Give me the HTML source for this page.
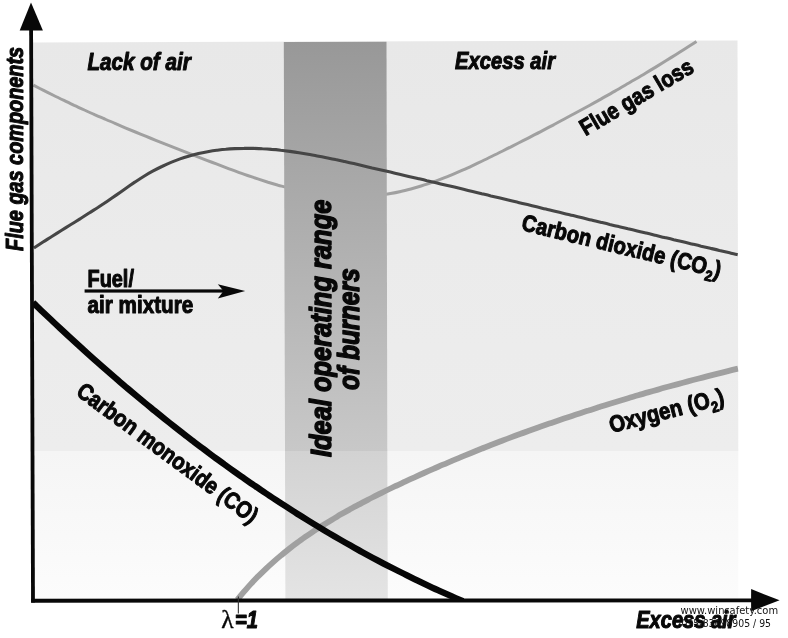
<!DOCTYPE html>
<html lang="en"><head><meta charset="utf-8"><title>Flue gas components vs. excess air</title>
<style>html,body{margin:0;padding:0;background:#fff}svg{display:block;will-change:transform}text{font-family:"Liberation Sans",Arial,Helvetica,sans-serif;fill:#080808}.b{stroke:#080808;stroke-width:1.1px;stroke-linejoin:round}</style></head><body>
<svg width="788" height="638" viewBox="0 0 788 638">
<rect width="788" height="638" fill="#fff"/>
<defs><linearGradient id="gbg" gradientUnits="userSpaceOnUse" x1="0" y1="41" x2="0" y2="451"><stop offset="0" stop-color="#e8e8e8"/><stop offset="0.5" stop-color="#ebebeb"/><stop offset="1" stop-color="#ededed"/></linearGradient><linearGradient id="gbl" gradientUnits="userSpaceOnUse" x1="0" y1="451" x2="0" y2="600"><stop offset="0" stop-color="#f5f5f5"/><stop offset="1" stop-color="#fcfcfc"/></linearGradient><linearGradient id="gband" gradientUnits="userSpaceOnUse" x1="0" y1="41" x2="0" y2="451"><stop offset="0" stop-color="#989898"/><stop offset="0.5" stop-color="#b0b0b0"/><stop offset="1" stop-color="#c8c8c8"/></linearGradient><linearGradient id="gbandl" gradientUnits="userSpaceOnUse" x1="0" y1="451" x2="0" y2="600"><stop offset="0" stop-color="#d2d2d2"/><stop offset="1" stop-color="#e4e4e4"/></linearGradient><clipPath id="cp"><rect x="31" y="38" width="707.5" height="564"/></clipPath></defs>
<polygon points="32,42.5 737.5,40.4 738.3,451 33,451" fill="url(#gbg)"/>
<polygon points="33,451 738.3,451 738.3,600 33,600" fill="url(#gbl)"/>
<path d="M33.4 85.2 C35.1 86.1 40.2 88.7 43.6 90.4 C47.0 92.1 50.4 93.8 53.8 95.5 C57.2 97.2 60.6 98.8 64.0 100.4 C67.4 102.1 70.8 103.7 74.2 105.3 C77.6 106.8 81.0 108.4 84.4 110.0 C87.8 111.5 91.2 113.0 94.6 114.6 C98.0 116.1 101.4 117.6 104.8 119.0 C108.2 120.5 111.6 122.0 115.0 123.4 C118.4 124.9 121.8 126.3 125.2 127.8 C128.6 129.2 132.0 130.6 135.4 132.0 C138.8 133.4 142.2 134.8 145.6 136.2 C149.0 137.6 152.4 138.9 155.8 140.3 C159.2 141.7 162.6 143.0 166.0 144.4 C169.4 145.7 172.8 147.1 176.2 148.4 C179.6 149.7 183.0 151.1 186.4 152.4 C189.8 153.7 193.2 155.0 196.6 156.4 C200.0 157.7 203.4 159.0 206.8 160.3 C210.2 161.6 213.6 162.9 217.0 164.2 C220.4 165.5 223.8 166.8 227.2 168.1 C230.6 169.4 234.0 170.6 237.4 171.8 C240.8 173.1 244.2 174.3 247.6 175.5 C251.0 176.6 254.4 177.8 257.8 178.9 C261.2 180.0 264.6 181.1 268.0 182.2 C271.4 183.2 274.8 184.2 278.2 185.2 C281.6 186.1 285.0 187.1 288.4 187.9 C291.8 188.8 295.2 189.6 298.6 190.4 C302.0 191.1 305.4 191.8 308.8 192.5 C312.2 193.1 315.6 193.7 319.0 194.2 C322.4 194.7 325.8 195.2 329.2 195.6 C332.6 195.9 336.0 196.2 339.4 196.5 C342.8 196.7 346.2 196.8 349.6 196.9 C353.0 197.0 356.4 196.9 359.8 196.8 C363.2 196.7 366.7 196.5 370.1 196.3 C373.5 196.0 376.9 195.6 380.3 195.2 C383.7 194.7 387.1 194.2 390.5 193.6 C393.9 193.0 397.3 192.3 400.7 191.5 C404.1 190.8 407.5 189.9 410.9 189.0 C414.3 188.1 417.7 187.1 421.1 186.0 C424.5 184.9 427.9 183.8 431.3 182.6 C434.7 181.4 438.1 180.1 441.5 178.8 C444.9 177.5 448.3 176.2 451.7 174.8 C455.1 173.3 458.5 171.9 461.9 170.4 C465.3 168.9 468.7 167.4 472.1 165.8 C475.5 164.2 478.9 162.6 482.3 161.0 C485.7 159.4 489.1 157.7 492.5 156.0 C495.9 154.4 499.3 152.7 502.7 151.0 C506.1 149.3 509.5 147.6 512.9 145.8 C516.3 144.1 519.7 142.4 523.1 140.7 C526.5 138.9 529.9 137.2 533.3 135.4 C536.7 133.7 540.1 131.9 543.5 130.1 C546.9 128.3 550.3 126.6 553.7 124.8 C557.1 123.0 560.5 121.2 563.9 119.3 C567.3 117.5 570.7 115.7 574.1 113.8 C577.5 112.0 580.9 110.1 584.3 108.3 C587.7 106.4 591.1 104.5 594.5 102.6 C597.9 100.8 601.3 98.8 604.7 96.9 C608.1 95.0 611.5 93.1 614.9 91.1 C618.3 89.2 621.7 87.2 625.1 85.2 C628.5 83.3 631.9 81.3 635.3 79.3 C638.7 77.3 642.1 75.3 645.5 73.2 C648.9 71.2 652.3 69.1 655.7 67.1 C659.1 65.0 662.5 62.9 665.9 60.8 C669.3 58.7 672.7 56.6 676.1 54.5 C679.5 52.4 682.9 50.2 686.3 48.0 C689.7 45.9 694.8 42.6 696.5 41.5" fill="none" stroke="#a0a0a0" stroke-width="3"/>
<polygon points="283.8,42 386.5,41.8 387.3,451 285,451" fill="url(#gband)"/>
<polygon points="285,451 387.3,451 387.8,600 285.4,600" fill="url(#gbandl)"/>
<g clip-path="url(#cp)">
<path d="M33.9 248.0 C35.4 247.0 40.0 244.0 43.0 242.0 C46.1 240.1 49.1 238.1 52.2 236.2 C55.2 234.3 58.3 232.4 61.3 230.5 C64.4 228.6 67.4 226.7 70.5 224.8 C73.5 222.9 76.6 221.0 79.6 219.1 C82.6 217.2 85.7 215.3 88.7 213.3 C91.8 211.4 94.8 209.4 97.9 207.5 C100.9 205.5 104.0 203.5 107.0 201.4 C110.1 199.3 113.1 197.2 116.2 195.1 C119.2 193.0 122.3 190.8 125.3 188.7 C128.3 186.6 131.4 184.5 134.4 182.4 C137.5 180.4 140.5 178.4 143.6 176.5 C146.6 174.6 149.7 172.8 152.7 171.2 C155.8 169.5 158.8 167.9 161.9 166.5 C164.9 165.0 168.0 163.6 171.0 162.4 C174.1 161.1 177.1 160.0 180.1 158.9 C183.2 157.8 186.2 156.9 189.3 156.0 C192.3 155.1 195.4 154.3 198.4 153.6 C201.5 152.9 204.5 152.3 207.6 151.7 C210.6 151.2 213.7 150.7 216.7 150.3 C219.8 149.9 222.8 149.5 225.8 149.3 C228.9 149.0 231.9 148.8 235.0 148.6 C238.0 148.5 241.1 148.4 244.1 148.4 C247.2 148.3 250.2 148.3 253.3 148.4 C256.3 148.5 259.4 148.6 262.4 148.8 C265.5 148.9 268.5 149.1 271.5 149.4 C274.6 149.6 277.6 149.9 280.7 150.3 C283.7 150.6 286.8 151.0 289.8 151.4 C292.9 151.8 295.9 152.2 299.0 152.7 C302.0 153.2 305.1 153.7 308.1 154.2 C311.2 154.8 314.2 155.3 317.2 155.9 C320.3 156.5 323.3 157.1 326.4 157.7 C329.4 158.3 332.5 158.9 335.5 159.6 C338.6 160.2 341.6 160.9 344.7 161.6 C347.7 162.3 350.8 163.0 353.8 163.6 C356.9 164.3 359.9 165.0 362.9 165.7 C366.0 166.4 369.0 167.1 372.1 167.9 C375.1 168.6 378.2 169.3 381.2 170.0 C384.3 170.7 387.3 171.4 390.4 172.1 C393.4 172.8 396.5 173.5 399.5 174.2 C402.6 174.9 405.6 175.6 408.7 176.4 C411.7 177.1 414.7 177.8 417.8 178.5 C420.8 179.2 423.9 179.9 426.9 180.7 C430.0 181.4 433.0 182.1 436.1 182.8 C439.1 183.5 442.2 184.3 445.2 185.0 C448.3 185.7 451.3 186.4 454.4 187.1 C457.4 187.9 460.4 188.6 463.5 189.3 C466.5 190.0 469.6 190.8 472.6 191.5 C475.7 192.2 478.7 192.9 481.8 193.7 C484.8 194.4 487.9 195.1 490.9 195.9 C494.0 196.6 497.0 197.3 500.1 198.0 C503.1 198.8 506.1 199.5 509.2 200.2 C512.2 201.0 515.3 201.7 518.3 202.4 C521.4 203.2 524.4 203.9 527.5 204.6 C530.5 205.3 533.6 206.1 536.6 206.8 C539.7 207.5 542.7 208.3 545.8 209.0 C548.8 209.7 551.8 210.5 554.9 211.2 C557.9 211.9 561.0 212.7 564.0 213.4 C567.1 214.1 570.1 214.9 573.2 215.6 C576.2 216.3 579.3 217.1 582.3 217.8 C585.4 218.5 588.4 219.3 591.5 220.0 C594.5 220.7 597.5 221.5 600.6 222.2 C603.6 222.9 606.7 223.6 609.7 224.4 C612.8 225.1 615.8 225.8 618.9 226.6 C621.9 227.3 625.0 228.0 628.0 228.8 C631.1 229.5 634.1 230.2 637.2 230.9 C640.2 231.7 643.3 232.4 646.3 233.1 C649.3 233.9 652.4 234.6 655.4 235.3 C658.5 236.0 661.5 236.8 664.6 237.5 C667.6 238.2 670.7 238.9 673.7 239.7 C676.8 240.4 679.8 241.1 682.9 241.8 C685.9 242.6 689.0 243.3 692.0 244.0 C695.0 244.7 698.1 245.4 701.1 246.2 C704.2 246.9 707.2 247.6 710.3 248.3 C713.3 249.0 716.4 249.7 719.4 250.5 C722.5 251.2 725.5 251.9 728.6 252.6 C731.6 253.3 736.2 254.4 737.7 254.7" fill="none" stroke="#464646" stroke-width="3.1"/>
<path d="M237.3 599.9 C238.4 598.5 241.7 594.4 244.0 591.7 C246.3 589.1 248.6 586.4 250.9 583.9 C253.3 581.3 255.7 578.8 258.1 576.3 C260.6 573.9 263.1 571.5 265.6 569.1 C268.1 566.7 270.6 564.4 273.2 562.1 C275.8 559.8 278.4 557.6 281.0 555.4 C283.7 553.2 286.4 551.0 289.1 548.9 C291.8 546.8 294.5 544.7 297.3 542.7 C300.0 540.7 302.8 538.7 305.6 536.7 C308.4 534.7 311.3 532.8 314.1 530.9 C317.0 529.0 319.9 527.1 322.8 525.3 C325.7 523.5 328.6 521.7 331.6 519.9 C334.5 518.1 337.5 516.4 340.5 514.6 C343.4 512.9 346.5 511.2 349.5 509.6 C352.5 507.9 355.5 506.2 358.6 504.6 C361.6 503.0 364.7 501.4 367.8 499.8 C370.8 498.2 373.9 496.7 377.0 495.1 C380.1 493.6 383.2 492.0 386.3 490.5 C389.4 489.0 392.6 487.5 395.7 486.0 C398.8 484.6 401.9 483.1 405.1 481.6 C408.2 480.2 411.4 478.7 414.5 477.3 C417.7 475.8 420.8 474.4 424.0 473.0 C427.1 471.6 430.3 470.2 433.4 468.8 C436.6 467.4 439.8 466.1 443.0 464.7 C446.1 463.3 449.3 462.0 452.5 460.6 C455.7 459.3 458.9 458.0 462.1 456.6 C465.3 455.3 468.5 454.0 471.7 452.7 C474.9 451.4 478.1 450.1 481.3 448.8 C484.5 447.6 487.7 446.3 490.9 445.0 C494.2 443.8 497.4 442.6 500.6 441.3 C503.8 440.1 507.1 438.9 510.3 437.6 C513.5 436.4 516.8 435.2 520.0 434.0 C523.3 432.9 526.5 431.7 529.8 430.5 C533.0 429.3 536.3 428.2 539.5 427.0 C542.8 425.9 546.0 424.7 549.3 423.6 C552.6 422.5 555.8 421.3 559.1 420.2 C562.4 419.1 565.6 418.0 568.9 416.9 C572.2 415.8 575.5 414.7 578.7 413.7 C582.0 412.6 585.3 411.5 588.6 410.5 C591.9 409.4 595.2 408.4 598.5 407.3 C601.7 406.3 605.0 405.3 608.3 404.2 C611.6 403.2 614.9 402.2 618.2 401.2 C621.5 400.2 624.8 399.2 628.2 398.2 C631.5 397.2 634.8 396.3 638.1 395.3 C641.4 394.3 644.7 393.4 648.0 392.4 C651.3 391.5 654.7 390.5 658.0 389.6 C661.3 388.6 664.6 387.7 667.9 386.8 C671.3 385.9 674.6 385.0 677.9 384.1 C681.2 383.2 684.6 382.3 687.9 381.4 C691.2 380.5 694.6 379.6 697.9 378.7 C701.2 377.9 704.6 377.0 707.9 376.1 C711.2 375.3 714.6 374.4 717.9 373.6 C721.3 372.7 724.6 371.9 727.9 371.1 C731.3 370.2 736.3 369.0 738.0 368.6" fill="none" stroke="#a0a0a0" stroke-width="5.8"/>
<path d="M33.0 302.5 C34.5 304.0 39.0 308.3 42.0 311.2 C45.1 314.1 48.1 317.0 51.1 319.8 C54.1 322.7 57.2 325.6 60.2 328.4 C63.3 331.2 66.3 334.1 69.4 336.9 C72.5 339.7 75.6 342.6 78.7 345.4 C81.7 348.2 84.8 351.0 88.0 353.8 C91.1 356.6 94.2 359.4 97.3 362.1 C100.4 364.9 103.6 367.7 106.7 370.4 C109.9 373.2 113.0 375.9 116.2 378.6 C119.3 381.4 122.5 384.1 125.7 386.8 C128.9 389.5 132.1 392.2 135.3 394.9 C138.5 397.6 141.7 400.2 144.9 402.9 C148.2 405.5 151.4 408.2 154.6 410.8 C157.9 413.5 161.1 416.1 164.4 418.7 C167.7 421.3 170.9 423.9 174.2 426.5 C177.5 429.1 180.8 431.7 184.1 434.2 C187.4 436.8 190.7 439.3 194.1 441.9 C197.4 444.4 200.7 446.9 204.1 449.4 C207.4 451.9 210.8 454.4 214.1 456.9 C217.5 459.4 220.9 461.8 224.2 464.3 C227.6 466.7 231.0 469.2 234.4 471.6 C237.8 474.0 241.2 476.4 244.7 478.8 C248.1 481.2 251.5 483.6 255.0 485.9 C258.4 488.3 261.9 490.6 265.4 493.0 C268.8 495.3 272.3 497.6 275.8 499.9 C279.3 502.2 282.8 504.5 286.3 506.7 C289.8 509.0 293.3 511.3 296.8 513.5 C300.4 515.7 303.9 517.9 307.5 520.1 C311.0 522.3 314.6 524.5 318.2 526.6 C321.7 528.8 325.3 531.0 328.9 533.1 C332.5 535.2 336.1 537.3 339.7 539.4 C343.3 541.5 347.0 543.6 350.6 545.6 C354.2 547.7 357.9 549.7 361.5 551.7 C365.2 553.7 368.9 555.7 372.5 557.7 C376.2 559.7 379.9 561.6 383.6 563.6 C387.3 565.5 391.0 567.4 394.8 569.3 C398.5 571.2 402.2 573.1 406.0 574.9 C409.7 576.8 413.5 578.6 417.2 580.4 C421.0 582.3 424.8 584.1 428.6 585.8 C432.4 587.6 436.2 589.4 440.0 591.1 C443.8 592.8 447.6 594.5 451.4 596.2 C455.3 597.9 461.1 600.4 463.0 601.2" fill="none" stroke="#060606" stroke-width="6.3"/>
</g>
<polygon points="29.2,30 33,30 34.9,602.6 31.1,602.6" fill="#080808"/>
<polygon points="31,2.5 42.9,30.6 19.7,30.6" fill="#080808"/>
<polygon points="31.1,598.7 752,598.4 752,602.2 31.1,602.8" fill="#080808"/>
<polygon points="779.6,600.3 751.1,589.1 751.1,611.3" fill="#080808"/>
<rect x="237.8" y="596.5" width="1.1" height="17" fill="#333"/>
<rect x="84.6" y="289.4" width="140" height="3.2" fill="#080808"/>
<polygon points="245.2,291.1 217.8,284.2 223.5,291.1 217.8,298.4" fill="#080808"/>
<text transform="translate(87.4 70.2) rotate(0.00) scale(0.861 0.970)" font-size="24" font-weight="700" class="b" font-style="italic" >Lack of air</text>
<text transform="translate(455.1 69.3) rotate(0.00) scale(0.842 0.970)" font-size="24" font-weight="700" class="b" font-style="italic" >Excess air</text>
<text transform="translate(23.2 250.9) rotate(-90.00) scale(0.827 0.970)" font-size="24" font-weight="700" class="b" font-style="italic" >Flue gas components</text>
<text transform="translate(87.6 286.5) rotate(0.00) scale(0.827 0.970)" font-size="24" font-weight="700" class="b" >Fuel/</text>
<text transform="translate(87.6 312.6) rotate(0.00) scale(0.861 0.970)" font-size="24" font-weight="700" class="b" >air mixture</text>
<text transform="translate(75.0 394.2) rotate(36.50) scale(0.834 0.970)" font-size="24" font-weight="700" class="b" >Carbon monoxide (CO)</text>
<text transform="translate(331.3 457.1) rotate(-90.00) scale(0.849 1.000)" font-size="30" font-weight="700" class="b" font-style="italic" style="stroke-width:1.5px">Ideal operating range</text>
<text transform="translate(359.0 390.0) rotate(-90.00) scale(0.820 1.000)" font-size="30" font-weight="700" class="b" font-style="italic" style="stroke-width:1.5px">of burners</text>
<text transform="translate(585.6 136.2) rotate(-30.60) scale(0.838 0.970)" font-size="24" font-weight="700" class="b" >Flue gas loss</text>
<text transform="translate(520.6 229.8) rotate(13.60) scale(0.843 0.970)" font-size="24" font-weight="700" class="b" >Carbon dioxide (CO<tspan font-size="15.5" dy="6">2</tspan><tspan dy="-6" dx="0.5">)</tspan></text>
<text transform="translate(611.5 433.0) rotate(-14.50) scale(0.850 0.970)" font-size="24" font-weight="700" class="b" >Oxygen (O<tspan font-size="15.5" dy="6">2</tspan><tspan dy="-6" dx="0.5">)</tspan></text>
<text x="221.2" y="627.9" font-size="25.5" style="font-family:'Liberation Serif','DejaVu Serif',serif;stroke:#080808;stroke-width:.35px">λ</text>
<text transform="translate(234.9 627.7) rotate(0.00) scale(0.840 0.970)" font-size="24" font-weight="700" class="b" font-style="italic" >=1</text>
<text transform="translate(636.2 627.7) rotate(0.00) scale(0.836 0.970)" font-size="24" font-weight="700" class="b" font-style="italic" >Excess air</text>
<text x="680.6" y="613.8" font-size="10" textLength="97.5" lengthAdjust="spacingAndGlyphs" style="font-family:'DejaVu Sans',Verdana,sans-serif;fill:#111">www.winsafety.com</text>
<text x="681.5" y="627" font-size="10" textLength="89.5" lengthAdjust="spacingAndGlyphs" style="font-family:'DejaVu Sans',Verdana,sans-serif;fill:#111">025-83698905 / 95</text>
</svg></body></html>
